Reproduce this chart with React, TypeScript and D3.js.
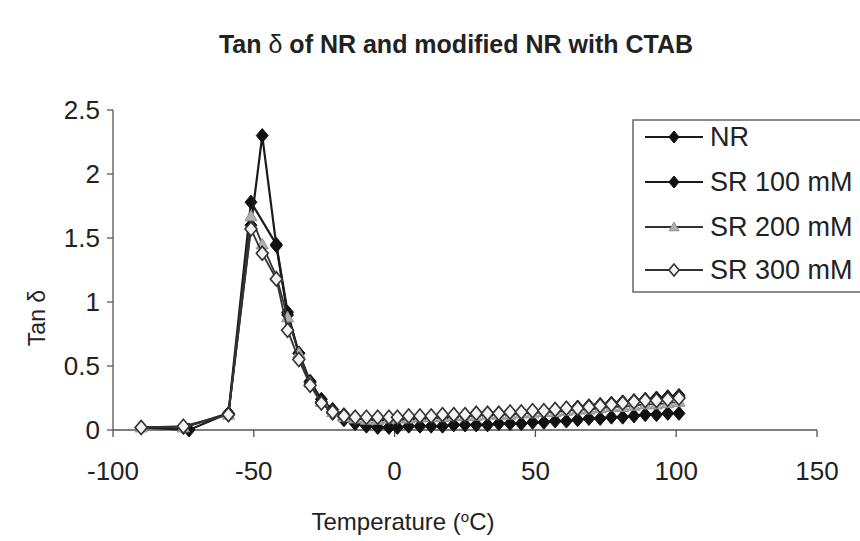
import React from "react";
import * as d3 from "d3";

const temps = [-90, -75, -73, -59, -51, -47, -42, -38, -34, -30, -26, -22, -18, -14, -10, -6, -2, 1, 5, 9, 13, 17, 21, 25, 29, 33, 37, 41, 45, 49, 53, 57, 61, 65, 69, 73, 77, 81, 85, 89, 93, 97, 101];

const nrValues = [0.02, null, 0.0, 0.13, 1.78, null, 1.45, 0.92, 0.6, 0.37, 0.22, 0.13, 0.08, 0.05, 0.03, 0.02, 0.02, 0.02, 0.03, 0.03, 0.03, 0.03, 0.04, 0.04, 0.04, 0.04, 0.05, 0.05, 0.05, 0.06, 0.06, 0.07, 0.07, 0.08, 0.09, 0.09, 0.1, 0.1, 0.11, 0.12, 0.12, 0.13, 0.13];
const sr100Values = [0.02, 0.02, null, 0.13, 1.6, 2.3, 1.44, 0.9, 0.6, 0.38, 0.24, 0.16, 0.12, 0.1, 0.09, 0.08, 0.08, 0.08, 0.09, 0.09, 0.1, 0.1, 0.11, 0.11, 0.12, 0.12, 0.13, 0.13, 0.14, 0.15, 0.15, 0.16, 0.17, 0.18, 0.19, 0.2, 0.21, 0.22, 0.23, 0.24, 0.25, 0.26, 0.27];
const sr200Values = [0.02, 0.02, null, 0.12, 1.67, 1.45, 1.2, 0.88, 0.6, 0.37, 0.22, 0.14, 0.1, 0.09, 0.08, 0.08, 0.09, 0.09, 0.09, 0.1, 0.1, 0.1, 0.11, 0.11, 0.11, 0.12, 0.12, 0.12, 0.13, 0.13, 0.14, 0.14, 0.15, 0.16, 0.16, 0.17, 0.18, 0.18, 0.19, 0.2, 0.2, 0.21, 0.22];
const sr300Values = [0.02, 0.03, null, 0.12, 1.57, 1.38, 1.18, 0.78, 0.55, 0.35, 0.21, 0.14, 0.11, 0.1, 0.1, 0.1, 0.1, 0.1, 0.11, 0.11, 0.11, 0.12, 0.12, 0.12, 0.13, 0.13, 0.13, 0.14, 0.14, 0.15, 0.15, 0.16, 0.17, 0.17, 0.18, 0.19, 0.2, 0.21, 0.22, 0.23, 0.23, 0.24, 0.25];

const seriesNames = ["NR", "SR 100 mM", "SR 200 mM", "SR 300 mM"];
const xTicks = [-100, -50, 0, 50, 100, 150];
const yTicks = [0, 0.5, 1, 1.5, 2, 2.5];

const FONT = "'Liberation Sans', Arial, sans-serif";

type Style = { marker: "diamond" | "triangle" | "open"; fill: string; stroke: string; line: string; lw: number };
const styles: Style[] = [
  { marker: "diamond", fill: "#111", stroke: "#111", line: "#1a1a1a", lw: 2.2 },
  { marker: "diamond", fill: "#111", stroke: "#111", line: "#1a1a1a", lw: 2.2 },
  { marker: "triangle", fill: "#b0b0b0", stroke: "#909090", line: "#333", lw: 1.8 },
  { marker: "open", fill: "#f4f4f4", stroke: "#333", line: "#333", lw: 1.8 },
];

function Marker({ x, y, s, size }: { x: number; y: number; s: Style; size: number }) {
  if (s.marker === "triangle") {
    const h = size;
    return <path d={`M${x},${y - h}L${x + h},${y + h * 0.75}L${x - h},${y + h * 0.75}Z`} fill={s.fill} stroke={s.stroke} strokeWidth={1} />;
  }
  const r = size;
  return (
    <path
      d={`M${x},${y - r}L${x + r * 0.85},${y}L${x},${y + r}L${x - r * 0.85},${y}Z`}
      fill={s.fill}
      stroke={s.stroke}
      strokeWidth={s.marker === "open" ? 1.6 : 1}
    />
  );
}

export default function App() {
  const x = d3.scaleLinear().domain([-100, 150]).range([113, 817]);
  const y = d3.scaleLinear().domain([0, 2.5]).range([430, 110]);
  const all = [nrValues, sr100Values, sr200Values, sr300Values];
  const line = d3
    .line<[number, number]>()
    .x((d) => x(d[0]))
    .y((d) => y(d[1]));

  const legendY = [137, 182, 227, 270];

  return (
    <svg width={860} height={541} style={{ position: "absolute", left: 0, top: 0, background: "#fff" }} fontFamily={FONT}>
      <rect x={0} y={0} width={860} height={541} fill="#fff" />
      <text x={456} y={53} textAnchor="middle" fontSize={25} fontWeight="bold" fill="#222">
        Tan <tspan fontWeight="normal">δ</tspan> of NR and modified NR with CTAB
      </text>

      {/* axes */}
      <line x1={x(-100)} x2={x(150)} y1={y(0)} y2={y(0)} stroke="#555" strokeWidth={1.3} />
      <line x1={x(-100)} x2={x(-100)} y1={y(0)} y2={y(2.5)} stroke="#555" strokeWidth={1.3} />
      {xTicks.map((t) => (
        <g key={"x" + t}>
          <line x1={x(t)} x2={x(t)} y1={y(0)} y2={y(0) + 7} stroke="#555" strokeWidth={1.3} />
          <text x={x(t)} y={480} textAnchor="middle" fontSize={26} fill="#222">
            {t}
          </text>
        </g>
      ))}
      {yTicks.map((t) => (
        <g key={"y" + t}>
          <line x1={x(-100) - 6} x2={x(-100)} y1={y(t)} y2={y(t)} stroke="#555" strokeWidth={1.3} />
          <text x={100} y={y(t) + 9} textAnchor="end" fontSize={26} fill="#222">
            {t}
          </text>
        </g>
      ))}
      <text x={403} y={530} textAnchor="middle" fontSize={24} fill="#222">
        Temperature (<tspan baselineShift="super" fontSize={15}>o</tspan>C)
      </text>
      <text transform="translate(45,318) rotate(-90)" textAnchor="middle" fontSize={23} fill="#222">
        Tan δ
      </text>

      {/* series */}
      {all.map((vals, i) => {
        const pts: [number, number][] = [];
        vals.forEach((v, j) => {
          if (v !== null) pts.push([temps[j], v as number]);
        });
        return (
          <g key={"s" + i}>
            <path d={line(pts) || ""} fill="none" stroke={styles[i].line} strokeWidth={styles[i].lw} />
            {pts.map((p, k) => (
              <Marker key={k} x={x(p[0])} y={y(p[1])} s={styles[i]} size={i === 2 ? 6 : 7} />
            ))}
          </g>
        );
      })}

      {/* legend */}
      <rect x={633} y={120} width={240} height={172} fill="#fff" stroke="#666" strokeWidth={1.5} />
      {seriesNames.map((n, i) => (
        <g key={"l" + i}>
          <line x1={645} x2={703} y1={legendY[i]} y2={legendY[i]} stroke={styles[i].line} strokeWidth={2} />
          <Marker x={674} y={legendY[i]} s={styles[i]} size={i === 2 ? 5 : 6} />
          <text x={710} y={legendY[i] + 9} fontSize={27} fill="#222">
            {n}
          </text>
        </g>
      ))}
    </svg>
  );
}
